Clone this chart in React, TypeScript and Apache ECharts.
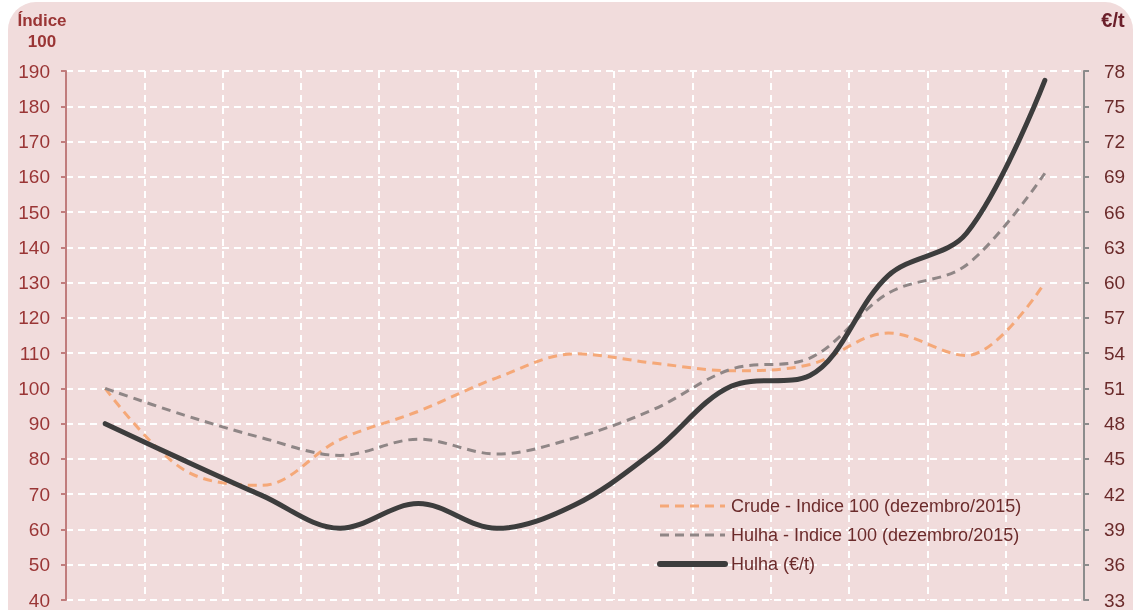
import React, { useEffect, useRef } from "react";
import * as echarts from "echarts";

const categories = ["dez/15", "jan/16", "fev/16", "mar/16", "abr/16", "mai/16", "jun/16", "jul/16", "ago/16", "set/16", "out/16", "nov/16", "dez/16"];
const crudeIndex = [100, 77, 72.5, 85.5, 93.5, 103, 109.8, 107.2, 105, 106.8, 115.7, 109.3, 130];
const hulhaIndex = [100, 92.5, 86, 81, 85.6, 81.4, 86, 94, 105.5, 108.6, 127, 135, 161];
const hulhaEur = [48, 44.9, 41.9, 39.1, 41.2, 39.1, 41.1, 45.6, 51.2, 52.1, 60.6, 64.2, 77.2];

const leftTicks = { min: 40, max: 190, interval: 10 };
const rightTicks = { min: 33, max: 78, interval: 3 };

export default function App() {
  const ref = useRef<HTMLDivElement>(null);
  useEffect(() => {
    if (!ref.current) return;
    const chart = echarts.init(ref.current, undefined, { renderer: "svg" });
    const font = "'Liberation Sans', Arial, sans-serif";
    chart.setOption({
      animation: false,
      textStyle: { fontFamily: font },
      graphic: [
        {
          type: "rect",
          z: -10,
          silent: true,
          shape: { x: 8, y: 2, width: 1125, height: 650, r: 28 },
          style: { fill: "#f1dcdc" },
        },
        {
          type: "text",
          x: 42,
          y: 29,
          style: { text: "Índice", fill: "#9a3535", font: `bold 17px ${font}`, align: "center", verticalAlign: "bottom" },
        },
        {
          type: "text",
          x: 42,
          y: 50,
          style: { text: "100", fill: "#9a3535", font: `bold 17px ${font}`, align: "center", verticalAlign: "bottom" },
        },
        {
          type: "text",
          x: 1113,
          y: 30,
          style: { text: "€/t", fill: "#6b1f2a", font: `bold 20px ${font}`, align: "center", verticalAlign: "bottom" },
        },
      ],
      grid: { left: 66, right: 50, top: 71, bottom: 10, containLabel: false },
      legend: {
        orient: "vertical",
        left: 657,
        top: 497,
        padding: 0,
        itemWidth: 65,
        itemHeight: 12,
        itemGap: 11,
        itemStyle: { opacity: 0 },
        textStyle: { color: "#6b2b2b", fontSize: 18, fontFamily: font, padding: [0, 0, 0, 1] },
        data: [
          { name: "Crude - Indice 100 (dezembro/2015)", lineStyle: { width: 3 } },
          { name: "Hulha - Indice 100 (dezembro/2015)", lineStyle: { width: 3 } },
          { name: "Hulha (€/t)", lineStyle: { width: 6 } },
        ],
      },
      xAxis: {
        type: "category",
        data: categories,
        boundaryGap: true,
        axisLine: { show: false },
        axisTick: { show: false },
        axisLabel: { show: false },
        splitLine: { show: true, interval: 0, lineStyle: { color: "#ffffff", width: 2, type: [7, 5] } },
      },
      yAxis: [
        {
          type: "value",
          min: leftTicks.min,
          max: leftTicks.max,
          interval: leftTicks.interval,
          position: "left",
          axisLine: { show: true, lineStyle: { color: "#c07c7c", width: 2 } },
          axisTick: { show: true, length: 5, lineStyle: { color: "#c07c7c", width: 2 } },
          axisLabel: { color: "#9a3535", fontSize: 19, margin: 16, fontFamily: font },
          splitLine: { show: true, lineStyle: { color: "#ffffff", width: 2, type: [7, 5] } },
        },
        {
          type: "value",
          min: rightTicks.min,
          max: rightTicks.max,
          interval: rightTicks.interval,
          position: "right",
          axisLine: { show: true, lineStyle: { color: "#8c8c8c", width: 2 } },
          axisTick: { show: true, length: 5, lineStyle: { color: "#8c8c8c", width: 2 } },
          axisLabel: { color: "#6b2b2b", fontSize: 19, margin: 20, fontFamily: font },
          splitLine: { show: false },
        },
      ],
      series: [
        {
          name: "Crude - Indice 100 (dezembro/2015)",
          type: "line",
          data: crudeIndex,
          yAxisIndex: 0,
          smooth: 0.35,
          symbol: "none",
          lineStyle: { color: "#f5a878", width: 3, type: [9, 6] },
          itemStyle: { color: "#f5a878" },
        },
        {
          name: "Hulha - Indice 100 (dezembro/2015)",
          type: "line",
          data: hulhaIndex,
          yAxisIndex: 0,
          smooth: 0.35,
          symbol: "none",
          lineStyle: { color: "#8f8686", width: 3, type: [9, 6] },
          itemStyle: { color: "#8f8686" },
        },
        {
          name: "Hulha (€/t)",
          type: "line",
          data: hulhaEur,
          yAxisIndex: 1,
          smooth: 0.35,
          symbol: "none",
          lineStyle: { color: "#3d3d3d", width: 5, cap: "round" },
          itemStyle: { color: "#3d3d3d" },
        },
      ],
    });
    return () => chart.dispose();
  }, []);
  return <div ref={ref} style={{ position: "fixed", left: 0, top: 0, width: 1134, height: 610 }} />;
}
